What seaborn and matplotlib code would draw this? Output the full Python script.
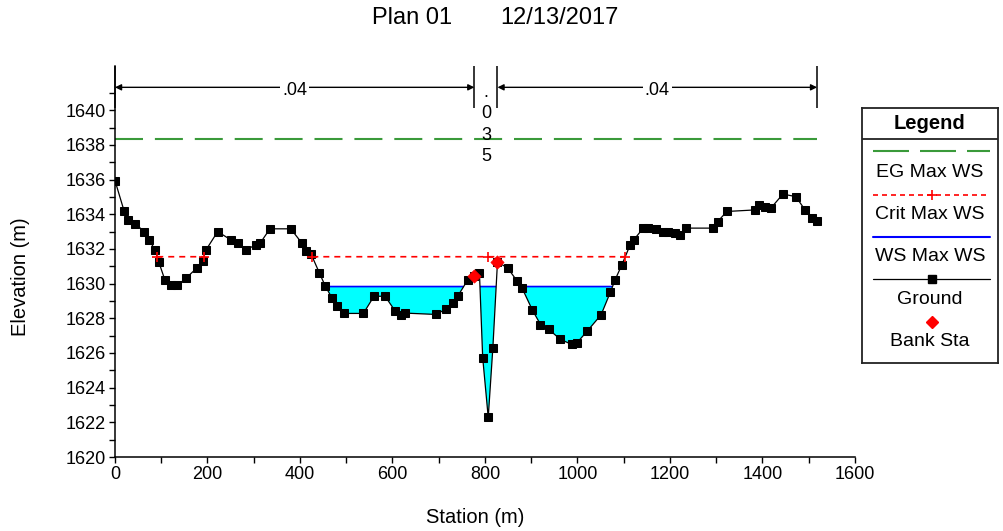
import numpy as np
import matplotlib
matplotlib.use('Agg')
import matplotlib.pyplot as plt
import seaborn as sns
from matplotlib.ticker import FixedLocator, MultipleLocator

# ---------------- data ----------------
station = [0, 20, 29, 44, 63, 74, 87, 95, 108, 122, 135, 153, 177, 190, 196,
           222, 250, 265, 283, 305, 314, 335, 380, 404, 414, 424, 442, 455,
           469, 480, 495, 537, 560, 584, 606, 618, 627, 695, 716, 731, 741,
           763, 777, 788, 795, 807, 817, 827, 849, 870, 880, 902, 920, 938,
           963, 988, 999, 1021, 1051, 1071, 1081, 1096, 1114, 1122, 1142,
           1153, 1169, 1185, 1196, 1210, 1221, 1234, 1293, 1303, 1323, 1384,
           1393, 1405, 1418, 1444, 1472, 1492, 1506, 1518]
ground = [1635.94, 1634.16, 1633.68, 1633.45, 1633.00, 1632.53, 1631.91,
          1631.22, 1630.20, 1629.90, 1629.90, 1630.30, 1630.90, 1631.28,
          1631.91, 1633.00, 1632.53, 1632.34, 1631.95, 1632.24, 1632.34,
          1633.16, 1633.16, 1632.34, 1631.86, 1631.70, 1630.61, 1629.84,
          1629.18, 1628.70, 1628.28, 1628.28, 1629.27, 1629.27, 1628.41,
          1628.20, 1628.30, 1628.22, 1628.55, 1628.89, 1629.27, 1630.23,
          1630.46, 1630.61, 1625.73, 1622.28, 1626.30, 1631.25, 1630.90,
          1630.13, 1629.75, 1628.50, 1627.64, 1627.36, 1626.78, 1626.49,
          1626.59, 1627.26, 1628.20, 1629.50, 1630.20, 1631.09, 1632.24,
          1632.53, 1633.20, 1633.20, 1633.14, 1632.98, 1632.95, 1632.90,
          1632.82, 1633.20, 1633.20, 1633.58, 1634.16, 1634.25, 1634.54,
          1634.40, 1634.35, 1635.16, 1635.02, 1634.25, 1633.78, 1633.62]
bank_station = [777, 827]
eg_max_ws = 1638.32
crit_max_ws = 1631.55
ws_max_ws = 1629.83
mannings_n = ['.04', '.035', '.04']
legend_labels = ['EG Max WS', 'Crit Max WS', 'WS Max WS', 'Ground', 'Bank Sta']
title_plan = 'Plan 01'
title_date = '12/13/2017'
x_ticks = list(range(0, 1601, 200))
y_ticks = list(range(1620, 1641, 2))

# ---------------- style ----------------
sns.set_theme(style='ticks')
plt.rcParams['font.family'] = ['Liberation Sans', 'DejaVu Sans']
plt.rcParams['axes.unicode_minus'] = False

PX = 72.0 / 100.0  # points per pixel


def dashes_px(d, g, lw_pt):
    return (d * PX / lw_pt, g * PX / lw_pt)


GREEN = '#3a9a3a'
RED = '#ff0000'
BLUE = '#0000ff'
CYAN = '#00ffff'

fig = plt.figure(figsize=(10.04, 5.31), dpi=100)
W, H = 1004.0, 531.0
ax_l, ax_r, ax_t, ax_b = 115, 855, 66, 457
ax = fig.add_axes([ax_l / W, (H - ax_b) / H, (ax_r - ax_l) / W, (ax_b - ax_t) / H])

st = np.array(station, dtype=float)
gr = np.array(ground, dtype=float)
bank_elev = np.interp(bank_station, st, gr)

xf = np.linspace(st[0], st[-1], 6000)
gf = np.interp(xf, st, gr)

# water fill and water surface
ax.fill_between(xf, gf, ws_max_ws, where=gf < ws_max_ws, interpolate=True,
                color=CYAN, linewidth=0, zorder=1)
ws_line = np.where(gf < ws_max_ws, ws_max_ws, np.nan)
ax.plot(xf, ws_line, color=BLUE, lw=1.2, zorder=2, solid_capstyle='butt')

# energy grade
lw_eg = 1.5
ax.plot([st[0], st[-1]], [eg_max_ws, eg_max_ws], color=GREEN, lw=lw_eg,
        dashes=dashes_px(28, 11.9, lw_eg), zorder=2, solid_capstyle='butt',
        dash_capstyle='butt')

# critical water surface
mask = gf < crit_max_ws
crit_line = np.where(mask, crit_max_ws, np.nan)
lw_cr = 1.2
ax.plot(xf, crit_line, color=RED, lw=lw_cr, dashes=dashes_px(6, 5, lw_cr), zorder=2)
edges = np.flatnonzero(np.diff(mask.astype(int)) != 0)
crit_marks = list(xf[edges]) + [st[np.argmin(gr)]]
ax.plot(crit_marks, [crit_max_ws] * len(crit_marks), linestyle='none',
        marker='+', color=RED, ms=7, mew=1.2, zorder=6)

# ground
sns.lineplot(x=st, y=gr, ax=ax, color='black', linewidth=0.9, marker='s',
             markersize=6.4, markeredgecolor='black', markerfacecolor='black',
             estimator=None, sort=False, zorder=4)

# bank stations
sns.scatterplot(x=bank_station, y=bank_elev, ax=ax, marker='D', color=RED,
                edgecolor=RED, s=45, zorder=5)

# axes formatting
ax.set_xlim(0, 1600)
ax.set_ylim(1620, 1642.55)
ax.xaxis.set_major_locator(FixedLocator(x_ticks))
ax.xaxis.set_minor_locator(MultipleLocator(100))
ax.yaxis.set_major_locator(FixedLocator(y_ticks))
ax.yaxis.set_minor_locator(FixedLocator(list(range(1621, 1642, 2))))
ax.tick_params(axis='both', which='both', direction='out', length=4.5,
               width=1.0, colors='black', labelsize=13, pad=2)
for s in ['top', 'right']:
    ax.spines[s].set_visible(False)
for s in ['left', 'bottom']:
    ax.spines[s].set_linewidth(1.1)
    ax.spines[s].set_color('black')
ax.set_facecolor('white')
ax.set_xlabel('Station (m)', fontsize=14.5, color='black')
ax.set_ylabel('Elevation (m)', fontsize=14.5, color='black')
ax.xaxis.set_label_coords((475 - ax_l) / (ax_r - ax_l), (ax_b - 508) / (ax_b - ax_t))
ax.yaxis.set_label_coords((30 - ax_l) / (ax_r - ax_l), (ax_b - 277) / (ax_b - ax_t))

# Manning's n annotations along the top
y_arrow = 1641.32
y_bar0 = 1640.15
ends = [st[0], bank_station[0], bank_station[1], st[-1]]
ax.vlines(ends, y_bar0, 1642.55, color='black', lw=1.1, clip_on=False, zorder=6)
for a, b in [(ends[0], ends[1]), (ends[2], ends[3])]:
    ax.annotate('', xy=(b, y_arrow), xytext=(a, y_arrow),
                arrowprops=dict(arrowstyle='<|-|>', color='black', lw=1.0,
                                mutation_scale=9, shrinkA=0, shrinkB=0),
                annotation_clip=False, zorder=6)
ax.text((ends[0] + ends[1]) / 2, 1641.15, mannings_n[0], ha='center', va='center',
        fontsize=13, color='black', zorder=7,
        bbox=dict(fc='white', ec='none', pad=1.5))
ax.text((ends[2] + ends[3]) / 2, 1641.15, mannings_n[2], ha='center', va='center',
        fontsize=13, color='black', zorder=7,
        bbox=dict(fc='white', ec='none', pad=1.5))
ax.text((ends[1] + ends[2]) / 2, 1641.5, '\n'.join(mannings_n[1]), ha='center',
        va='top', fontsize=13, color='black', linespacing=1.33, zorder=7)

# title
fig.text(452 / W, 1 - 18 / H, title_plan, ha='right', va='center', fontsize=17,
         color='black')
fig.text(500 / W, 1 - 18 / H, title_date, ha='left', va='center', fontsize=17,
         color='black')

# ---------------- legend box ----------------
lx0, lx1, ly0, ly1 = 862, 998, 108, 363
lax = fig.add_axes([lx0 / W, (H - ly1) / H, (lx1 - lx0) / W, (ly1 - ly0) / H])
lax.set_xlim(lx0, lx1)
lax.set_ylim(ly1, ly0)
lax.set_xticks([])
lax.set_yticks([])
lax.set_facecolor('white')
for s in lax.spines.values():
    s.set_linewidth(1.3)
    s.set_color('#222222')
lax.axhline(139, color='#222222', lw=1.3)
lax.text((lx0 + lx1) / 2, 123.5, 'Legend', ha='center', va='center', fontsize=14.5,
         fontweight='bold', color='black')
sx0, sx1, smid = 873, 990, 932
sample_y = [151, 195, 237, 279, 322]
text_y = [173, 214.5, 257, 300, 342]
lax.plot([sx0, sx1], [sample_y[0]] * 2, color=GREEN, lw=1.5,
         dashes=dashes_px(36, 11, 1.5))
lax.plot([sx0, sx1], [sample_y[1]] * 2, color=RED, lw=1.2,
         dashes=dashes_px(5, 4, 1.2))
lax.plot([smid], [sample_y[1]], marker='+', color=RED, ms=7, mew=1.2)
lax.plot([sx0, sx1], [sample_y[2]] * 2, color=BLUE, lw=1.5)
lax.plot([sx0, sx1], [sample_y[3]] * 2, color='black', lw=0.9)
lax.plot([smid], [sample_y[3]], marker='s', color='black', ms=6)
lax.plot([smid], [sample_y[4]], marker='D', color=RED, ms=6)
for lab, ty in zip(legend_labels, text_y):
    lax.text((lx0 + lx1) / 2, ty, lab, ha='center', va='center', fontsize=14,
             color='black')

fig.savefig('out.png', dpi=100, facecolor='white')
